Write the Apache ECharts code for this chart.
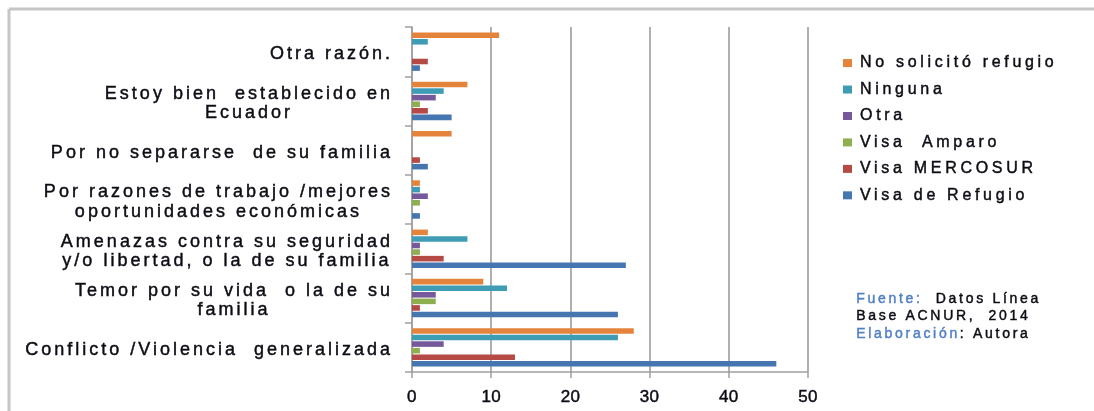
<!DOCTYPE html>
<html>
<head>
<meta charset="utf-8">
<script src="https://cdn.jsdelivr.net/npm/echarts@6/dist/echarts.min.js"></script>
<style>
  html, body { margin: 0; padding: 0; background: #ffffff; }
  #chart { width: 1094px; height: 411px; }
</style>
</head>
<body>
<div id="chart"></div>
<script>
// ---- Data ----
const categories = [
  "Conflicto /Violencia  generalizada",
  "Temor por su vida  o la de su\nfamilia",
  "Amenazas contra su seguridad\ny/o libertad, o la de su familia",
  "Por razones de trabajo /mejores\noportunidades económicas",
  "Por no separarse  de su familia",
  "Estoy bien  establecido en\nEcuador",
  "Otra razón."
];
const seriesNames = ["No solicitó refugio", "Ninguna", "Otra", "Visa  Amparo", "Visa MERCOSUR", "Visa de Refugio"];
const noSolicito   = [28, 9, 2, 1, 5, 7, 11];
const ninguna      = [26, 12, 7, 1, 0, 4, 2];
const otra         = [4, 3, 1, 2, 0, 3, 0];
const visaAmparo   = [1, 3, 1, 1, 0, 1, 0];
const visaMercosur = [13, 1, 4, 0, 1, 2, 2];
const visaRefugio  = [46, 26, 27, 1, 2, 5, 1];
const xTicks = [0, 10, 20, 30, 40, 50];
const sourceLines = ["Fuente:", "  Datos Línea", "Base ACNUR,  2014", "Elaboración", ": Autora"];

const seriesValues = [noSolicito, ninguna, otra, visaAmparo, visaMercosur, visaRefugio];
const colors = ["#E4843C", "#3E9CB4", "#76599A", "#8EAF4F", "#B44946", "#4676B0"];

// Emulate the wide letter spacing of the original rendering (canvas letterSpacing by font size)
(function () {
  const P = window.CanvasRenderingContext2D && CanvasRenderingContext2D.prototype;
  if (!P || !('letterSpacing' in P)) return;
  const map = { 18: 3.0, 17: 0.3, 16: 3.7, 14: 2.7 };
  function sp(ctx) {
    const m = /(\d+(?:\.\d+)?)px/.exec(ctx.font);
    const s = m ? Math.round(parseFloat(m[1])) : 12;
    ctx.letterSpacing = (map[s] || 0) + 'px';
  }
  const mt = P.measureText, ft = P.fillText, st = P.strokeText;
  P.measureText = function (t) { sp(this); return mt.call(this, t); };
  P.fillText = function (t, x, y, w) { sp(this); return w === undefined ? ft.call(this, t, x, y) : ft.call(this, t, x, y, w); };
  P.strokeText = function (t, x, y, w) { sp(this); return w === undefined ? st.call(this, t, x, y) : st.call(this, t, x, y, w); };
})();

const FONT = "'Liberation Sans', Arial, sans-serif";
const TXT = '#0c0c14';
const BW = 0.45;
const chart = echarts.init(document.getElementById('chart'), null, { renderer: 'canvas' });

chart.setOption({
  animation: false,
  backgroundColor: '#ffffff',
  color: colors,
  grid: { left: 412, right: 286, top: 27, bottom: 39, containLabel: false },
  legend: {
    orient: 'vertical',
    left: 838,
    top: 48,
    data: seriesNames,
    icon: 'rect',
    itemWidth: 9,
    itemHeight: 8,
    itemGap: 6.3,
    textStyle: { fontFamily: FONT, fontSize: 16, color: TXT, lineHeight: 18, padding: [0, 0, 0, 3], textBorderColor: TXT, textBorderWidth: BW }
  },
  xAxis: {
    type: 'value',
    min: xTicks[0],
    max: xTicks[xTicks.length - 1],
    interval: xTicks[1] - xTicks[0],
    axisLine: { show: true, lineStyle: { color: '#a0a0a0', width: 1.5 } },
    axisTick: { show: true, length: 6, lineStyle: { color: '#a0a0a0', width: 1.5 } },
    splitLine: { show: true, lineStyle: { color: '#9c9c9c', width: 1.6 } },
    axisLabel: { fontFamily: FONT, fontSize: 17, color: TXT, margin: 17, textBorderColor: TXT, textBorderWidth: BW }
  },
  yAxis: {
    type: 'category',
    data: categories,
    axisLine: { show: true, lineStyle: { color: '#a0a0a0', width: 1.5 } },
    axisTick: { show: true, length: 7, lineStyle: { color: '#a0a0a0', width: 1.5 } },
    axisLabel: {
      interval: 0,
      margin: 19,
      align: 'right',
      padding: [5, 0, 0, 0],
      formatter: function (v) {
        return v.split('\n').map(function (l) { return '{c|' + l + '}'; }).join('\n');
      },
      rich: { c: { align: 'center', fontFamily: FONT, fontSize: 18, color: TXT, lineHeight: 19.5, textBorderColor: TXT, textBorderWidth: BW } }
    }
  },
  series: seriesNames.map(function (name, i) {
    return {
      name: name,
      type: 'bar',
      data: seriesValues[i],
      barCategoryGap: '22%',
      barGap: '18%',
      itemStyle: { color: colors[i] }
    };
  }),
  graphic: [
    { type: 'line', shape: { x1: 9, y1: 9, x2: 1094, y2: 9 }, style: { stroke: '#c6c6c6', lineWidth: 3 }, silent: true },
    { type: 'line', shape: { x1: 9, y1: 9, x2: 9, y2: 411 }, style: { stroke: '#c6c6c6', lineWidth: 3 }, silent: true },
    {
      type: 'text',
      left: 856,
      top: 290,
      style: {
        text: '{b|' + sourceLines[0] + '}' + sourceLines[1] + '\n' + sourceLines[2] + '\n{b|' + sourceLines[3] + '}' + sourceLines[4],
        fontFamily: FONT,
        fontSize: 14,
        lineHeight: 17.5,
        fill: TXT,
        stroke: TXT,
        lineWidth: BW,
        rich: { b: { fontFamily: FONT, fontSize: 14, lineHeight: 17.5, fill: '#4F7FC8', stroke: '#4F7FC8', lineWidth: BW } }
      }
    }
  ]
});
</script>
</body>
</html>
